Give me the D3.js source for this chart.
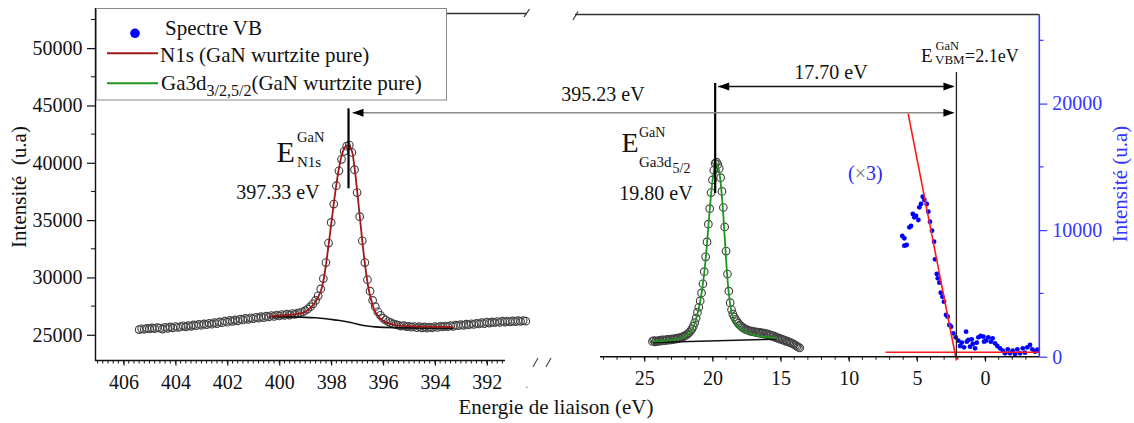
<!DOCTYPE html>
<html><head><meta charset="utf-8">
<script src="https://cdn.jsdelivr.net/npm/d3@7"></script>
<style>
body{margin:0;background:#fff}
svg{display:block}
text{font-family:"Liberation Serif","Times New Roman",serif}
</style>
</head><body>
<svg id="c" width="1134" height="423"></svg>
<script>
// ---------------- DATA ----------------
// N1s spectrum (left panel, binding energy eV / intensity)
const n1sE = [405.4,405.3,405.2,405.1,405.0,404.9,404.8,404.7,404.6,404.5,
404.4,404.3,404.2,404.1,404.0,403.9,403.8,403.7,403.6,403.5,
403.4,403.3,403.2,403.1,403.0,402.9,402.8,402.7,402.6,402.5,
402.4,402.3,402.2,402.1,402.0,401.9,401.8,401.7,401.6,401.5,
401.4,401.3,401.2,401.1,401.0,400.9,400.8,400.7,400.6,400.5,
400.4,400.3,400.2,400.1,400.0,399.9,399.8,399.7,399.6,399.5,
399.4,399.3,399.2,399.1,399.0,398.9,398.8,398.7,398.6,398.5,
398.4,398.3,398.2,398.1,398.0,397.9,397.8,397.7,397.6,397.5,
397.4,397.3,397.2,397.1,397.0,396.9,396.8,396.7,396.6,396.5,
396.4,396.3,396.2,396.1,396.0,395.9,395.8,395.7,395.6,395.5,
395.4,395.3,395.2,395.1,395.0,394.9,394.8,394.7,394.6,394.5,
394.4,394.3,394.2,394.1,394.0,393.9,393.8,393.7,393.6,393.5,
393.4,393.3,393.2,393.1,393.0,392.9,392.8,392.7,392.6,392.5,
392.4,392.3,392.2,392.1,392.0,391.9,391.8,391.7,391.6,391.5,
391.4,391.3,391.2,391.1,391.0,390.9,390.8,390.7,390.6,390.5];
const n1sI = [25450,25520,25480,25560,25510,25600,25540,25620,25580,25500,
25640,25560,25680,25600,25720,25650,25700,25780,25690,25800,
25740,25860,25790,25900,25830,25950,25880,26000,25920,26050,
25980,26120,26050,26180,26100,26250,26170,26300,26220,26360,
26290,26420,26350,26480,26400,26520,26450,26580,26500,26620,
26560,26680,26600,26720,26640,26760,26700,26800,26720,26850,
26780,26880,26920,27000,27100,27250,27450,27700,28000,28400,
29000,29900,31300,33000,34800,36400,38000,39300,40300,41000,
41450,41550,40900,39400,37400,35300,33200,31300,29800,28800,
28000,27450,27000,26700,26450,26280,26150,26050,25950,25880,
25820,25760,25800,25700,25740,25660,25720,25620,25700,25600,
25680,25590,25660,25610,25700,25640,25730,25680,25760,25700,
25800,25740,25840,25790,25880,25820,25920,25860,25960,25900,
26000,25940,26050,25980,26100,26020,26120,26060,26150,26080,
26180,26110,26200,26130,26210,26150,26230,26170,26240,26190];
const n1sFitE = [400.4,400.0,399.5,399.0,398.8,398.6,398.4,398.3,398.2,398.1,
398.0,397.9,397.8,397.7,397.6,397.5,397.4,397.33,397.2,397.1,
397.0,396.9,396.8,396.7,396.6,396.5,396.4,396.3,396.1,395.9,
395.5,395.0,394.0,393.3];
const n1sFitI = [26600,26680,26760,27000,27350,27900,28800,29700,31100,32800,
34600,36400,38100,39500,40600,41250,41500,41530,41000,39600,
37600,35400,33200,31200,29600,28400,27600,27000,26400,26100,
25850,25750,25700,25690];
const n1sBgE = [400.4,399.5,398.6,398.2,397.8,397.5,397.2,396.9,396.6,396.3,395.5,393.3];
const n1sBgI = [26576,26560,26480,26400,26280,26180,26050,25880,25760,25690,25620,25570];

// Ga3d spectrum (right panel, left intensity scale)
const gaE = [24.4,24.3,24.2,24.1,24.0,23.9,23.8,23.7,23.6,23.5,
23.4,23.3,23.2,23.1,23.0,22.9,22.8,22.7,22.6,22.5,
22.4,22.3,22.2,22.1,22.0,21.9,21.8,21.7,21.6,21.5,
21.4,21.3,21.2,21.1,21.0,20.9,20.8,20.7,20.6,20.5,
20.4,20.3,20.2,20.1,20.0,19.9,19.8,19.7,19.6,19.5,
19.4,19.3,19.2,19.1,19.0,18.9,18.8,18.7,18.6,18.5,
18.4,18.3,18.2,18.1,18.0,17.9,17.8,17.7,17.6,17.5,
17.4,17.3,17.2,17.1,17.0,16.9,16.8,16.7,16.6,16.5,
16.4,16.3,16.2,16.1,16.0,15.9,15.8,15.7,15.6,15.5,
15.4,15.3,15.2,15.1,15.0,14.9,14.8,14.7,14.6,14.5,
14.4,14.3,14.2,14.1,14.0,13.9,13.8,13.7,13.6];
const gaI = [24420,24500,24380,24470,24420,24520,24440,24550,24480,24560,
24500,24600,24530,24620,24560,24650,24590,24680,24640,24720,
24700,24780,24800,24880,24920,25000,25080,25200,25350,25520,
25750,26050,26450,26950,27400,27950,28650,29450,30500,31800,
33100,34650,36000,37400,38500,39350,39950,40050,39850,39500,
38700,37500,36100,34400,32300,30300,28800,27800,27200,26800,
26550,26350,26150,26000,25850,25760,25650,25580,25500,25450,
25400,25360,25300,25320,25250,25280,25180,25230,25150,25200,
25100,25160,25060,25120,25000,25050,24930,24980,24850,24900,
24760,24800,24680,24700,24600,24620,24520,24540,24430,24440,
24350,24330,24260,24220,24150,24080,24000,23920,23850];
const gaFitE = [24.4,23.5,22.5,22.0,21.6,21.4,21.2,21.0,20.8,20.6,
20.4,20.2,20.0,19.9,19.8,19.7,19.6,19.5,19.4,19.3,
19.2,19.1,19.0,18.9,18.8,18.6,18.4,18.2,18.0,17.5,
17.0,16.5,16.0,15.3];
const gaFitI = [24430,24500,24650,24850,25250,25650,26350,27300,28600,30400,
32900,35900,38400,39300,39900,39950,39700,39200,38300,37000,
35400,33500,31600,29900,28600,27000,26200,25800,25550,25200,
25000,24870,24790,24700];
const gaBgE = [24.4,15.3];
const gaBgI = [24330,24620];

// Valence band spectrum (x3, right intensity scale)
const vbE = [6.07,5.92,5.92,5.75,5.55,5.43,5.30,5.19,5.06,4.89,
4.82,4.70,4.57,4.45,4.28,4.16,4.04,3.89,3.74,3.67,
3.54,3.47,3.35,3.25,3.13,3.01,2.86,2.74,2.62,2.49,
2.33,2.15,1.96,1.83,1.71,1.54,1.39,1.22,1.10,0.90,
0.73,0.49,0.32,0.12,-0.07,-0.24,-0.42,-0.56,-0.73,-0.90,
-1.10,-1.30,-1.47,-1.67,-1.83,-2.03,-2.20,-2.37,-2.57,-2.77,
-2.93,-3.10,-3.30,-3.47,-3.67,-3.84,1.34,0.98,0.61,0.07];
const vbI = [9537,9355,8770,8826,10224,10327,11276,11015,11117,10801,
11805,12066,12642,12381,12066,11457,10667,9956,9087,7696,
6535,6195,5847,5057,4741,4346,3295,3161,2505,2370,
1849,1533,1264,845,1106,743,1975,1320,790,1003,
664,1533,1636,1580,1264,1533,1185,1454,1059,845,
664,474,269,585,269,474,213,585,269,664,
316,743,924,585,395,553,1185,1375,1106,1185];
const vbSlopeE = [5.64, 2.1];
const vbSlopeI = [19200, -300];
const vbBaseE = [7.3, -3.96];
const vbBaseI = [350, 350];

// ticks
const xLeftTicks = [406,404,402,400,398,396,394,392];
const xRightTicks = [25,20,15,10,5,0];
const yLeftTicks = [25000,30000,35000,40000,45000,50000];
const yRightTicks = [0,10000,20000];

// annotation values
const eN1s = 397.33, eGa = 19.80, eVBM = 2.1;

// ---------------- SCALES ----------------
const svg = d3.select("#c");
const xL = d3.scaleLinear().domain([407.1, 391.3]).range([95, 505]);
const xR = d3.scaleLinear().domain([28.25, -3.96]).range([600, 1039]);
const yL = d3.scaleLinear().domain([22800, 53500]).range([360, 8]);
const yR = d3.scaleLinear().domain([0, 27000]).range([356.7, 15]);

const blue = "#3535ff";
const ink = "#111";

// ---------------- MARKS ----------------
const circStroke = "#444";
svg.append("g").selectAll("circle").data(n1sE).join("circle")
  .attr("cx", d => xL(d)).attr("cy", (d,i) => yL(n1sI[i])).attr("r", 3.8)
  .attr("fill", "none").attr("stroke", circStroke).attr("stroke-width", 1.15);
svg.append("g").selectAll("circle").data(gaE).join("circle")
  .attr("cx", d => xR(d)).attr("cy", (d,i) => yL(gaI[i])).attr("r", 3.8)
  .attr("fill", "none").attr("stroke", circStroke).attr("stroke-width", 1.15);

const lineL = d3.line().x(d => xL(d[0])).y(d => yL(d[1])).curve(d3.curveCatmullRom);
const lineRL = d3.line().x(d => xR(d[0])).y(d => yL(d[1])).curve(d3.curveCatmullRom);
const lineRR = d3.line().x(d => xR(d[0])).y(d => yR(d[1]));

svg.append("path").attr("d", lineL(n1sBgE.map((e,i)=>[e,n1sBgI[i]])))
  .attr("fill","none").attr("stroke",ink).attr("stroke-width",1.6);
svg.append("path").attr("d", lineL(n1sFitE.map((e,i)=>[e,n1sFitI[i]])))
  .attr("fill","none").attr("stroke","#a01818").attr("stroke-width",1.8);
svg.append("path").attr("d", lineRL(gaBgE.map((e,i)=>[e,gaBgI[i]])))
  .attr("fill","none").attr("stroke",ink).attr("stroke-width",1.6);
svg.append("path").attr("d", lineRL(gaFitE.map((e,i)=>[e,gaFitI[i]])))
  .attr("fill","none").attr("stroke","#1e961e").attr("stroke-width",1.8);

svg.append("g").selectAll("circle").data(vbE).join("circle")
  .attr("cx", d => xR(d)).attr("cy", (d,i) => yR(vbI[i])).attr("r", 2.4)
  .attr("fill", "#0000ff");
svg.append("path").attr("d", lineRR(vbSlopeE.map((e,i)=>[e,vbSlopeI[i]])))
  .attr("stroke","#ff1a1a").attr("stroke-width",1.6).attr("fill","none");
svg.append("path").attr("d", lineRR(vbBaseE.map((e,i)=>[e,vbBaseI[i]])))
  .attr("stroke","#ff1a1a").attr("stroke-width",1.6).attr("fill","none");

// ---------------- AXES ----------------
const gx1 = svg.append("g").attr("transform","translate(0,360.5)")
  .call(d3.axisBottom(xL).tickValues(xLeftTicks).tickSize(5).tickPadding(9).tickFormat(d3.format("d")));
const gx2 = svg.append("g").attr("transform","translate(0,356.7)")
  .call(d3.axisBottom(xR).tickValues(xRightTicks).tickSize(5).tickPadding(9).tickFormat(d3.format("d")));
const gy1 = svg.append("g").attr("transform","translate(95.5,0)")
  .call(d3.axisLeft(yL).tickValues(yLeftTicks).tickSize(8.5).tickPadding(4.5).tickFormat(d3.format("d")));
const gy2 = svg.append("g").attr("transform","translate(1039.3,0)")
  .call(d3.axisRight(yR).tickValues(yRightTicks).tickSize(8).tickPadding(5).tickFormat(d3.format("d")));
[gx1,gx2,gy1,gy2].forEach(g => {
  g.select(".domain").remove();
  g.attr("font-family", null);
  g.selectAll("text").attr("font-size", 20).attr("fill", ink);
  g.selectAll("line").attr("stroke", ink).attr("stroke-width",1.2);
});
gy2.selectAll("line").attr("stroke", blue);
gy2.selectAll("text").attr("fill", blue);

// minor ticks
const minorG = svg.append("g").attr("stroke",ink).attr("stroke-width",1);
d3.range(407.0, 391.3, -0.2).forEach(v => {
  const x = xL(v);
  minorG.append("line").attr("x1",x).attr("x2",x).attr("y1",360.5).attr("y2",363.5);
});
d3.range(28, -3.96, -1).forEach(v => {
  const x = xR(v);
  minorG.append("line").attr("x1",x).attr("x2",x).attr("y1",356.7).attr("y2",359.7);
});
[27500,32500,37500,42500,47500,52500].forEach(v => {
  minorG.append("line").attr("x1",95.5).attr("x2",91).attr("y1",yL(v)).attr("y2",yL(v));
});
[5000,15000,25000].forEach(v => {
  svg.append("line").attr("x1",1039.3).attr("x2",1043.5).attr("y1",yR(v)).attr("y2",yR(v))
    .attr("stroke",blue).attr("stroke-width",1.2);
});

// axis lines / frame
const frame = svg.append("g").attr("fill","none");
frame.append("line").attr("x1",95.5).attr("x2",95.5).attr("y1",8).attr("y2",361).attr("stroke",ink).attr("stroke-width",1.4);
frame.append("line").attr("x1",95).attr("x2",505).attr("y1",360.5).attr("y2",360.5).attr("stroke",ink).attr("stroke-width",1.4);
frame.append("line").attr("x1",600).attr("x2",1039.3).attr("y1",356.7).attr("y2",356.7).attr("stroke",ink).attr("stroke-width",1.4);
frame.append("line").attr("x1",1039.3).attr("x2",1039.3).attr("y1",14.5).attr("y2",357).attr("stroke",blue).attr("stroke-width",1.6);
frame.append("line").attr("x1",95.5).attr("x2",527).attr("y1",13.5).attr("y2",13.5).attr("stroke","#333").attr("stroke-width",1.3);
frame.append("line").attr("x1",524).attr("x2",529.5).attr("y1",17).attr("y2",9).attr("stroke","#333").attr("stroke-width",1.2);
frame.append("line").attr("x1",575).attr("x2",1039.3).attr("y1",14.5).attr("y2",14.5).attr("stroke","#333").attr("stroke-width",1.3);
frame.append("line").attr("x1",573).attr("x2",578).attr("y1",20).attr("y2",11.5).attr("stroke","#333").attr("stroke-width",1.2);
// break marks on the energy axis
frame.append("line").attr("x1",533).attr("x2",538).attr("y1",367).attr("y2",358).attr("stroke","#444").attr("stroke-width",1.1);
frame.append("line").attr("x1",546).attr("x2",551).attr("y1",367).attr("y2",358).attr("stroke","#444").attr("stroke-width",1.1);
svg.append("rect").attr("x",526).attr("y",386.5).attr("width",1.5).attr("height",1.5).attr("fill","#999");

// ---------------- ANNOTATIONS ----------------
const ann = svg.append("g");
const xN = xL(eN1s), xG = xR(eGa), xV = xR(eVBM);
ann.append("line").attr("x1",xN).attr("x2",xN).attr("y1",yL(44750)).attr("y2",yL(37775)).attr("stroke","#000").attr("stroke-width",2.2);
ann.append("line").attr("x1",xG).attr("x2",xG).attr("y1",yL(46960)).attr("y2",yL(37365)).attr("stroke","#000").attr("stroke-width",2.2);
ann.append("line").attr("x1",xV).attr("x2",xV).attr("y1",yR(22500)).attr("y2",yR(0)).attr("stroke","#222").attr("stroke-width",1.3);

function arrowHead(x, y, dir) { // dir -1 left, +1 right; tip at x
  const b = x - dir*11;
  ann.append("path").attr("d",`M${x},${y}L${b},${y-4}L${b},${y+4}Z`).attr("fill","#000");
}
const yA1 = 112.8, yA2 = 86.5;
ann.append("line").attr("x1",xN+4).attr("x2",xV-3).attr("y1",yA1).attr("y2",yA1).attr("stroke","#888").attr("stroke-width",1.6);
arrowHead(xN+4, yA1, -1); arrowHead(xV-2, yA1, 1);
ann.append("line").attr("x1",xG+3).attr("x2",xV-3).attr("y1",yA2).attr("y2",yA2).attr("stroke",ink).attr("stroke-width",1.3);
arrowHead(xG+3, yA2, -1); arrowHead(xV-2, yA2, 1);

function txt(x, y, s, size, anchor, color) {
  return ann.append("text").attr("x",x).attr("y",y).attr("font-size",size)
    .attr("text-anchor",anchor||"start").attr("fill",color||ink).text(s);
}
txt(603, 101, "395.23 eV", 20, "middle");
txt(831, 79, "17.70 eV", 20, "middle");
txt(278, 199, "397.33 eV", 20, "middle");
txt(656, 200, "19.80 eV", 20, "middle");
// E N1s
txt(276.5, 161.7, "E", 30);
txt(297, 141.5, "GaN", 14.5);
txt(297, 167, "N1s", 15);
// E Ga3d5/2
txt(621.5, 151.7, "E", 28);
txt(639, 136.7, "GaN", 14);
txt(639, 166.5, "Ga3d", 15);
txt(672.5, 172.5, "5/2", 14);
// E VBM
txt(921, 61.7, "E", 19);
txt(935.5, 50, "GaN", 12.5);
txt(935, 63.5, "VBM", 13);
txt(965, 61.7, "=2.1eV", 18);
// (x3)
const t3 = ann.append("text").attr("x",848).attr("y",180).attr("font-size",20).attr("fill","#2828ff");
t3.append("tspan").text("(");
t3.append("tspan").attr("fill","#777").text("×");
t3.append("tspan").text("3)");

// axis titles
svg.append("text").attr("x",556).attr("y",414).attr("text-anchor","middle").attr("font-size",21).attr("fill",ink).text("Energie de liaison (eV)");
svg.append("text").attr("transform","translate(25.5,187) rotate(-90)").attr("text-anchor","middle").attr("font-size",21).attr("fill",ink).text("Intensité\u00a0\u00a0(u.a)");
svg.append("text").attr("transform","translate(1127,184) rotate(-90)").attr("text-anchor","middle").attr("font-size",21).attr("fill",blue).text("Intensité (u.a)");

// ---------------- LEGEND ----------------
const lg = svg.append("g");
lg.append("rect").attr("x",96.5).attr("y",8.5).attr("width",350).attr("height",91.5)
  .attr("fill","#fff").attr("stroke","#888").attr("stroke-width",1);
lg.append("circle").attr("cx",135).attr("cy",33.3).attr("r",4.8).attr("fill","#0000ff");
lg.append("text").attr("x",165).attr("y",35).attr("font-size",21).attr("fill",ink).text("Spectre VB");
lg.append("line").attr("x1",107).attr("x2",158).attr("y1",53.3).attr("y2",53.3).attr("stroke","#a01818").attr("stroke-width",2);
lg.append("text").attr("x",160).attr("y",61.5).attr("font-size",21).attr("fill",ink).text("N1s (GaN wurtzite pure)");
lg.append("line").attr("x1",107).attr("x2",158).attr("y1",83.3).attr("y2",83.3).attr("stroke","#1e961e").attr("stroke-width",2);
const lt = lg.append("text").attr("x",161).attr("y",90).attr("font-size",21).attr("fill",ink);
lt.append("tspan").text("Ga3d");
lt.append("tspan").attr("font-size",16).attr("dy",6).text("3/2,5/2");
lt.append("tspan").attr("dy",-6).text("(GaN wurtzite pure)");
</script>
</body></html>
